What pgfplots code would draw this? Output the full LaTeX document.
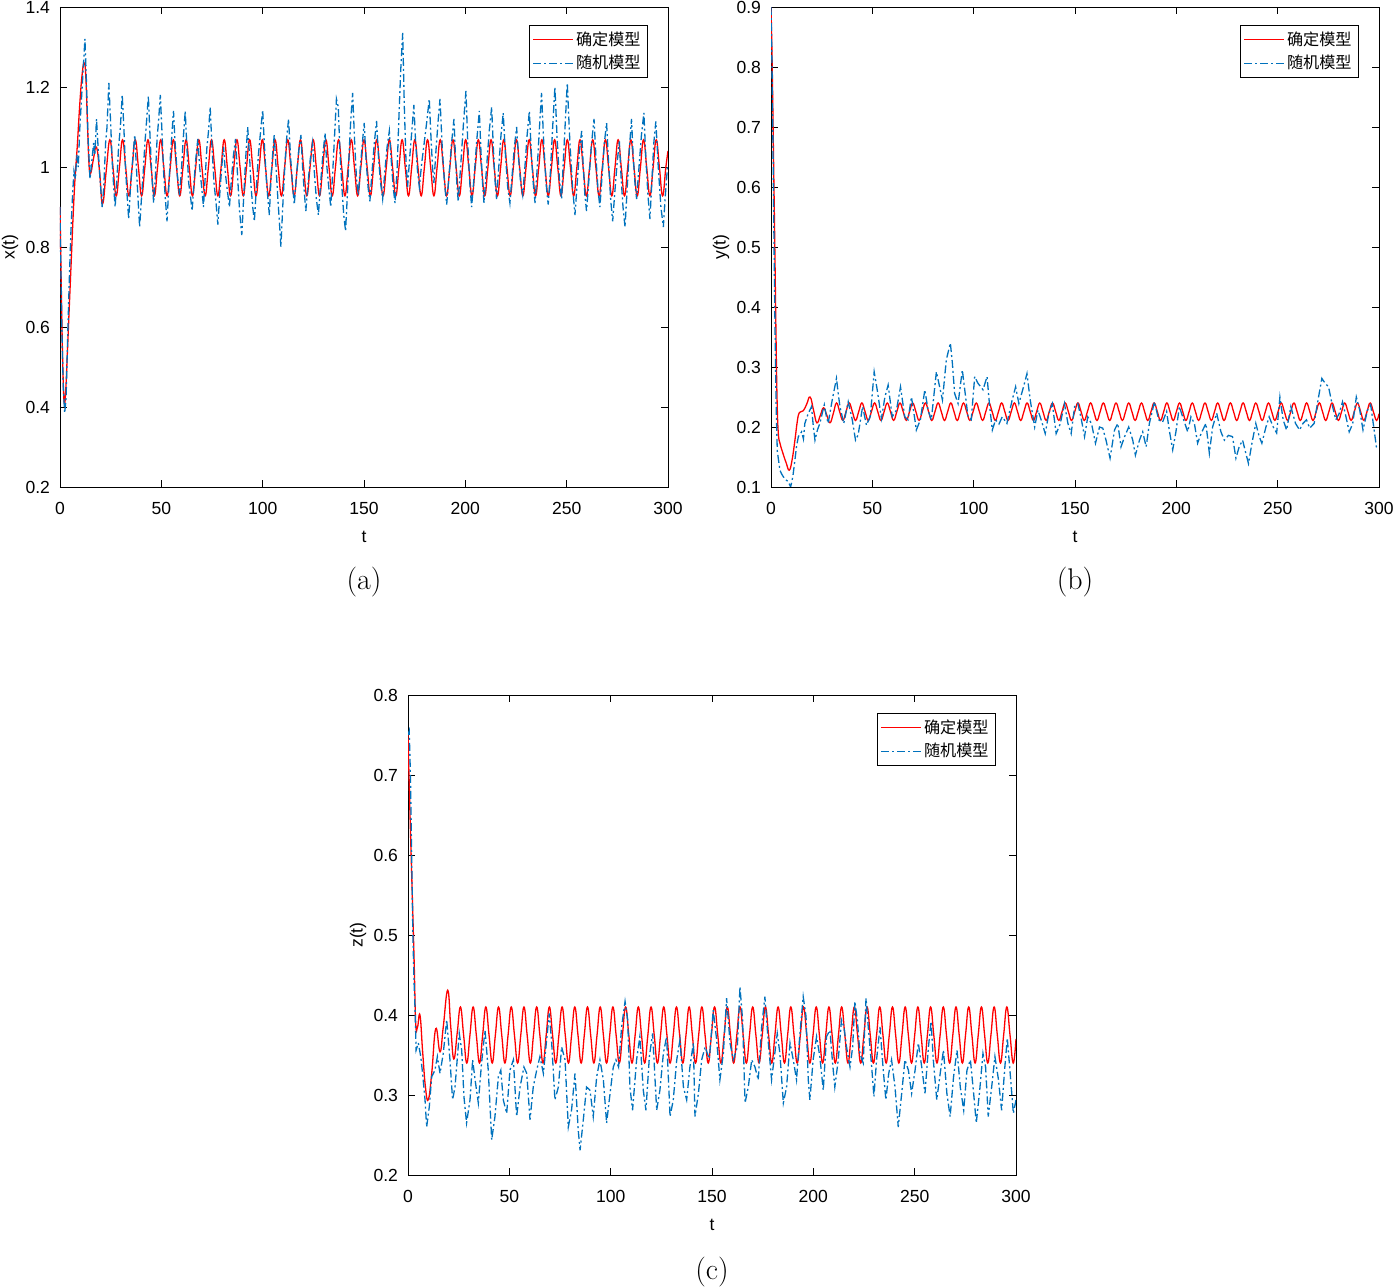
\documentclass[border=0pt]{standalone}
\usepackage{fontspec}
\usepackage{pgfplots}
\pgfplotsset{compat=1.18}
\newfontfamily\hv{Liberation Sans}
\newfontfamily\cjk{Noto Sans CJK SC}
\definecolor{mred}{rgb}{1,0,0}
\definecolor{mblue}{rgb}{0,0.447,0.741}
\pgfplotsset{
  mystyle/.style={
    scale only axis, width=304bp, height=240bp,
    xmin=0, xmax=300, xtick={0,50,100,150,200,250,300},
    tick align=inside, major tick length=3.5bp,
    major tick style={black},
    ticklabel style={font=\hv\fontsize{8.8}{10}\selectfont},
    /pgf/number format/assume math mode=true,
    xticklabel style={yshift=-4bp},
    yticklabel style={xshift=-1.5bp},
    xlabel={t},
    label style={font=\hv\fontsize{8.8}{10}\selectfont},
    xlabel style={at={(rel axis cs:0.5,0)}, anchor=center, yshift=-25bp},
    ylabel style={at={(rel axis cs:0,0.5)}, anchor=center, yshift=25bp},
    legend cell align=left,
    legend style={at={(1,1)}, anchor=north east, xshift=-10bp, yshift=-9bp,
      draw=black, fill=white,
      font=\cjk\fontsize{8.1}{9}\selectfont, inner xsep=2bp, inner ysep=1.5bp,
      row sep=0.5bp, nodes={inner sep=1.5bp}},
  },
  redleg/.style={legend image code/.code={\node[inner sep=0pt, text depth=0pt, anchor=west] at (0bp,0bp) {\color{mred}\rule{20bp}{0.65bp}};}},
  blueleg/.style={legend image code/.code={\node[inner sep=0pt, text depth=0pt, anchor=west] at (0bp,0bp) {\color{mblue}\rule{4bp}{0.65bp}\hspace{1.5bp}\rule{1bp}{0.65bp}\hspace{1.5bp}\rule{4bp}{0.65bp}\hspace{1.5bp}\rule{1bp}{0.65bp}\hspace{1.5bp}\rule{4bp}{0.65bp}};}},
}
\begin{document}
\begin{tikzpicture}
\useasboundingbox (-30bp,-400.5bp) rectangle (667.5bp,243.5bp);
% ---------------- (a)
\begin{axis}[mystyle, name=pa, at={(0bp,0bp)}, anchor=south west,
  ymin=0.2, ymax=1.4, ytick={0.2,0.4,0.6,0.8,1,1.2,1.4}, ylabel={x(t)}]
\addplot[color=mred, line width=0.65bp, smooth, tension=0.75, redleg] coordinates {
(0,0.90)(0.7,0.68)(1.4,0.50)(2.1,0.41)(2.8,0.44)(3.6,0.53)(4.5,0.64)(5.5,0.76)(6.5,0.88)(7.4,0.97)(8.5,1.05)(9.8,1.16)(11,1.235)(12,1.26)(12.8,1.22)(13.6,1.10)(14.4,1.00)(15.2,0.985)(16.5,1.02)(18,1.05)(19.5,0.99)(21,0.908)(22.8,0.99)
(24.60,1.068)(26.17,0.998)(27.74,0.928)(29.30,0.998)
(30.87,1.068)(32.44,0.998)(34.01,0.928)(35.57,0.998)
(37.14,1.068)(38.71,0.998)(40.28,0.928)(41.84,0.998)
(43.41,1.068)(44.98,0.998)(46.55,0.928)(48.11,0.998)
(49.68,1.068)(51.25,0.998)(52.82,0.928)(54.38,0.998)
(55.95,1.068)(57.52,0.998)(59.09,0.928)(60.65,0.998)
(62.22,1.068)(63.79,0.998)(65.36,0.928)(66.92,0.998)
(68.49,1.068)(70.06,0.998)(71.63,0.928)(73.19,0.998)
(74.76,1.068)(76.33,0.998)(77.90,0.928)(79.46,0.998)
(81.03,1.068)(82.60,0.998)(84.17,0.928)(85.73,0.998)
(87.30,1.068)(88.87,0.998)(90.44,0.928)(92.00,0.998)
(93.57,1.068)(95.14,0.998)(96.71,0.928)(98.27,0.998)
(99.84,1.068)(101.41,0.998)(102.98,0.928)(104.54,0.998)
(106.11,1.068)(107.68,0.998)(109.25,0.928)(110.81,0.998)
(112.38,1.068)(113.95,0.998)(115.52,0.928)(117.08,0.998)
(118.65,1.068)(120.22,0.998)(121.79,0.928)(123.35,0.998)
(124.92,1.068)(126.49,0.998)(128.06,0.928)(129.62,0.998)
(131.19,1.068)(132.76,0.998)(134.33,0.928)(135.89,0.998)
(137.46,1.068)(139.03,0.998)(140.60,0.928)(142.16,0.998)
(143.73,1.068)(145.30,0.998)(146.87,0.928)(148.43,0.998)
(150.00,1.068)(151.57,0.998)(153.14,0.928)(154.70,0.998)
(156.27,1.068)(157.84,0.998)(159.41,0.928)(160.97,0.998)
(162.54,1.068)(164.11,0.998)(165.68,0.928)(167.24,0.998)
(168.81,1.068)(170.38,0.998)(171.95,0.928)(173.51,0.998)
(175.08,1.068)(176.65,0.998)(178.22,0.928)(179.78,0.998)
(181.35,1.068)(182.92,0.998)(184.49,0.928)(186.05,0.998)
(187.62,1.068)(189.19,0.998)(190.76,0.928)(192.32,0.998)
(193.89,1.068)(195.46,0.998)(197.03,0.928)(198.59,0.998)
(200.16,1.068)(201.73,0.998)(203.30,0.928)(204.86,0.998)
(206.43,1.068)(208.00,0.998)(209.57,0.928)(211.13,0.998)
(212.70,1.068)(214.27,0.998)(215.84,0.928)(217.40,0.998)
(218.97,1.068)(220.54,0.998)(222.11,0.928)(223.67,0.998)
(225.24,1.068)(226.81,0.998)(228.38,0.928)(229.94,0.998)
(231.51,1.068)(233.08,0.998)(234.65,0.928)(236.21,0.998)
(237.78,1.068)(239.35,0.998)(240.92,0.928)(242.48,0.998)
(244.05,1.068)(245.62,0.998)(247.19,0.928)(248.75,0.998)
(250.32,1.068)(251.89,0.998)(253.46,0.928)(255.02,0.998)
(256.59,1.068)(258.16,0.998)(259.73,0.928)(261.29,0.998)
(262.86,1.068)(264.43,0.998)(266.00,0.928)(267.56,0.998)
(269.13,1.068)(270.70,0.998)(272.27,0.928)(273.83,0.998)
(275.40,1.068)(276.97,0.998)(278.54,0.928)(280.10,0.998)
(281.67,1.068)(283.24,0.998)(284.81,0.928)(286.37,0.998)
(287.94,1.068)(289.51,0.998)(291.08,0.928)(292.64,0.998)
(294.21,1.068)(295.78,0.998)(297.35,0.928)(298.91,0.998)(300,1.04)
};
\addplot[color=mblue, line width=0.65bp, dash pattern=on 4bp off 1.5bp on 1bp off 1.5bp, blueleg] coordinates {
(0,0.90)(0.8,0.62)(1.6,0.45)(2.3,0.385)(3.0,0.42)(3.8,0.58)(4.6,0.72)(5.4,0.84)(6.2,0.93)(6.9,0.99)(7.6,0.97)(8.3,1.03)(9.0,1.00)(9.8,1.10)(10.6,1.17)(11.4,1.24)(12.3,1.32)(13.0,1.22)(13.8,1.08)(14.8,0.97)(15.8,1.02)(16.6,1.06)(17.2,1.03)(18.0,1.12)(18.8,1.05)(19.6,0.98)(20.8,0.90)(21.6,0.95)(22.5,1.06)(23.2,1.10)(24.1,1.21)(24.9,1.12)(25.8,1.01)(26.5,0.95)(27.2,0.90)(28.1,0.97)(28.9,1.05)(29.8,1.10)(30.7,1.18)(31.5,1.10)(32.3,1.00)(33.1,0.93)(33.9,0.87)(34.8,0.95)(35.6,1.00)(36.2,1.04)(36.9,1.08)(37.7,1.00)(38.5,0.92)(39.3,0.85)(40.3,0.93)(41.1,0.99)(41.9,1.06)(42.8,1.12)(43.6,1.177)(44.4,1.08)(45.3,0.98)(46.2,0.91)(47.1,0.98)(47.9,1.07)(48.7,1.12)(49.5,1.18)(50.3,1.09)(51.2,0.98)(52.0,0.92)(52.8,0.864)(53.6,0.94)(54.4,1.02)(55.2,1.08)(56.0,1.14)(56.8,1.06)(57.9,0.98)(59.0,0.93)(59.9,0.99)(60.8,1.07)(61.8,1.14)(62.6,1.05)(63.5,0.96)(64.3,0.93)(65.2,0.89)(66.1,0.96)(67.0,1.02)(68.0,1.07)(68.9,1.00)(69.9,0.95)(70.8,0.90)(71.6,0.97)(72.5,1.05)(73.3,1.09)(74.1,1.15)(75.0,1.05)(76.0,0.96)(77.0,0.91)(77.9,0.856)(78.8,0.93)(79.8,1.00)(80.7,1.05)(81.7,0.98)(82.6,0.94)(83.6,0.90)(84.6,0.97)(85.6,1.03)(86.6,1.07)(87.6,0.98)(88.6,0.89)(89.7,0.83)(90.6,0.92)(91.6,1.02)(92.6,1.10)(93.5,1.03)(94.3,0.95)(95.1,0.90)(95.9,0.864)(96.9,0.95)(97.9,1.03)(99.0,1.09)(100.0,1.143)(100.9,1.05)(101.8,0.97)(102.6,0.92)(103.3,0.88)(104.1,0.97)(104.9,1.03)(105.7,1.08)(106.6,1.00)(107.5,0.92)(108.3,0.86)(109.0,0.80)(109.9,0.90)(110.9,1.00)(111.8,1.07)(112.8,1.12)(113.7,1.03)(114.7,0.96)(115.6,0.906)(116.7,0.98)(117.8,1.04)(118.9,1.08)(119.7,1.00)(120.5,0.94)(121.3,0.89)(122.4,0.96)(123.5,1.02)(124.6,1.06)(125.6,0.98)(126.5,0.92)(127.5,0.88)(128.6,0.96)(129.7,1.03)(130.8,1.085)(131.7,1.00)(132.6,0.95)(133.6,0.90)(134.6,0.99)(135.5,1.08)(136.4,1.17)(137.3,1.15)(138.2,1.03)(139.1,0.95)(140.0,0.88)(140.9,0.84)(141.8,0.93)(142.7,1.04)(143.5,1.12)(144.4,1.185)(145.4,1.06)(146.3,0.97)(147.2,0.93)(148.2,1.00)(149.2,1.06)(150.1,1.11)(151.0,1.02)(152.0,0.95)(152.9,0.914)(154.0,0.99)(155.1,1.06)(156.2,1.115)(157.2,1.02)(158.2,0.96)(159.2,0.92)(160.3,0.99)(161.4,1.05)(162.5,1.09)(163.4,1.02)(164.4,0.95)(165.3,0.91)(166.3,0.99)(167.2,1.12)(168.1,1.24)(169.1,1.335)(169.9,1.15)(170.7,1.02)(171.5,0.95)(172.5,1.02)(173.6,1.09)(174.6,1.155)(175.5,1.06)(176.4,0.99)(177.3,0.95)(178.5,1.01)(179.7,1.06)(180.9,1.11)(182.2,1.17)(183.0,1.08)(183.8,1.00)(184.5,0.96)(185.5,1.04)(186.5,1.11)(187.5,1.17)(188.6,1.05)(189.7,0.96)(190.8,0.906)(192.0,0.98)(193.2,1.06)(194.4,1.12)(195.1,1.03)(195.8,0.96)(196.5,0.914)(197.8,1.01)(199.1,1.11)(200.3,1.19)(201.2,1.06)(202.2,0.96)(203.1,0.90)(204.4,0.98)(205.7,1.07)(206.9,1.14)(207.7,1.04)(208.5,0.96)(209.2,0.91)(210.5,1.00)(211.8,1.09)(213.0,1.15)(213.8,1.05)(214.6,0.97)(215.4,0.92)(216.5,1.00)(217.6,1.08)(218.7,1.135)(219.8,1.03)(220.9,0.95)(222.0,0.91)(223.1,0.98)(224.2,1.05)(225.3,1.10)(226.3,1.02)(227.3,0.96)(228.3,0.93)(229.4,1.00)(230.5,1.08)(231.6,1.14)(232.5,1.04)(233.5,0.96)(234.4,0.91)(235.5,1.00)(236.6,1.10)(237.6,1.185)(238.7,1.06)(239.8,0.96)(240.9,0.906)(242.0,0.99)(243.1,1.10)(244.2,1.20)(245.3,1.07)(246.4,0.97)(247.5,0.92)(248.4,1.02)(249.4,1.12)(250.3,1.21)(251.6,1.06)(252.9,0.95)(254.1,0.88)(255.2,0.96)(256.3,1.04)(257.4,1.09)(258.2,1.00)(259.0,0.93)(259.8,0.89)(261.0,0.97)(262.3,1.06)(263.5,1.12)(264.5,1.02)(265.5,0.94)(266.4,0.90)(267.5,0.98)(268.6,1.06)(269.7,1.11)(270.7,1.01)(271.7,0.92)(272.7,0.864)(273.8,0.94)(274.9,1.01)(276.0,1.064)(276.9,0.97)(277.8,0.90)(278.8,0.85)(279.9,0.95)(281.0,1.05)(282.0,1.12)(282.8,1.03)(283.7,0.96)(284.5,0.92)(285.7,1.00)(286.9,1.08)(288.1,1.135)(289.1,1.02)(290.1,0.93)(291.1,0.87)(292.1,0.97)(293.0,1.06)(294.0,1.114)(295.2,1.00)(296.5,0.90)(297.7,0.85)(298.7,0.93)(299.7,0.997)(300,1.0)
};
\legend{确定模型,随机模型}
\end{axis}
\node[font=\fontsize{15}{18}\selectfont] at ([yshift=-47.5bp]pa.south) {(a)};
% ---------------- (b)
\begin{axis}[mystyle, name=pb, at={(355.5bp,0bp)}, anchor=south west,
  ymin=0.1, ymax=0.9, ytick={0.1,0.2,0.3,0.4,0.5,0.6,0.7,0.8,0.9}, ylabel={y(t)}]
\addplot[color=mred, line width=0.65bp, smooth, tension=0.75, redleg] coordinates {
(0,0.90)(0.6,0.80)(1.2,0.66)(1.8,0.52)(2.5,0.345)(3.0,0.245)(3.6,0.19)(4.5,0.172)(6,0.155)(7.5,0.14)(9,0.128)(10.4,0.145)(11.8,0.178)(13,0.21)(14,0.224)(15.9,0.227)(17.6,0.238)(19.3,0.25)(21,0.228)(22.6,0.207)(24.3,0.219)(25.9,0.232)(27.5,0.22)(29.1,0.207)(30.7,0.222)
(32.30,0.240)(33.87,0.2255)(35.44,0.211)(37.00,0.2255)
(38.57,0.240)(40.14,0.2255)(41.71,0.211)(43.27,0.2255)
(44.84,0.240)(46.41,0.2255)(47.98,0.211)(49.54,0.2255)
(51.11,0.240)(52.68,0.2255)(54.25,0.211)(55.81,0.2255)
(57.38,0.240)(58.95,0.2255)(60.52,0.211)(62.08,0.2255)
(63.65,0.240)(65.22,0.2255)(66.79,0.211)(68.35,0.2255)
(69.92,0.240)(71.49,0.2255)(73.06,0.211)(74.62,0.2255)
(76.19,0.240)(77.76,0.2255)(79.33,0.211)(80.89,0.2255)
(82.46,0.240)(84.03,0.2255)(85.60,0.211)(87.16,0.2255)
(88.73,0.240)(90.30,0.2255)(91.87,0.211)(93.43,0.2255)
(95.00,0.240)(96.57,0.2255)(98.14,0.211)(99.70,0.2255)
(101.27,0.240)(102.84,0.2255)(104.41,0.211)(105.97,0.2255)
(107.54,0.240)(109.11,0.2255)(110.68,0.211)(112.24,0.2255)
(113.81,0.240)(115.38,0.2255)(116.95,0.211)(118.51,0.2255)
(120.08,0.240)(121.65,0.2255)(123.22,0.211)(124.78,0.2255)
(126.35,0.240)(127.92,0.2255)(129.49,0.211)(131.05,0.2255)
(132.62,0.240)(134.19,0.2255)(135.76,0.211)(137.32,0.2255)
(138.89,0.240)(140.46,0.2255)(142.03,0.211)(143.59,0.2255)
(145.16,0.240)(146.73,0.2255)(148.30,0.211)(149.86,0.2255)
(151.43,0.240)(153.00,0.2255)(154.57,0.211)(156.13,0.2255)
(157.70,0.240)(159.27,0.2255)(160.84,0.211)(162.40,0.2255)
(163.97,0.240)(165.54,0.2255)(167.11,0.211)(168.67,0.2255)
(170.24,0.240)(171.81,0.2255)(173.38,0.211)(174.94,0.2255)
(176.51,0.240)(178.08,0.2255)(179.65,0.211)(181.21,0.2255)
(182.78,0.240)(184.35,0.2255)(185.92,0.211)(187.48,0.2255)
(189.05,0.240)(190.62,0.2255)(192.19,0.211)(193.75,0.2255)
(195.32,0.240)(196.89,0.2255)(198.46,0.211)(200.02,0.2255)
(201.59,0.240)(203.16,0.2255)(204.73,0.211)(206.29,0.2255)
(207.86,0.240)(209.43,0.2255)(211.00,0.211)(212.56,0.2255)
(214.13,0.240)(215.70,0.2255)(217.27,0.211)(218.83,0.2255)
(220.40,0.240)(221.97,0.2255)(223.54,0.211)(225.10,0.2255)
(226.67,0.240)(228.24,0.2255)(229.81,0.211)(231.37,0.2255)
(232.94,0.240)(234.51,0.2255)(236.08,0.211)(237.64,0.2255)
(239.21,0.240)(240.78,0.2255)(242.35,0.211)(243.91,0.2255)
(245.48,0.240)(247.05,0.2255)(248.62,0.211)(250.18,0.2255)
(251.75,0.240)(253.32,0.2255)(254.89,0.211)(256.45,0.2255)
(258.02,0.240)(259.59,0.2255)(261.16,0.211)(262.72,0.2255)
(264.29,0.240)(265.86,0.2255)(267.43,0.211)(268.99,0.2255)
(270.56,0.240)(272.13,0.2255)(273.70,0.211)(275.26,0.2255)
(276.83,0.240)(278.40,0.2255)(279.97,0.211)(281.53,0.2255)
(283.10,0.240)(284.67,0.2255)(286.24,0.211)(287.80,0.2255)
(289.37,0.240)(290.94,0.2255)(292.51,0.211)(294.07,0.2255)
(295.64,0.240)(297.21,0.2255)(298.78,0.211)(300,0.222)
};
\addplot[color=mblue, line width=0.65bp, dash pattern=on 4bp off 1.5bp on 1bp off 1.5bp, blueleg] coordinates {
(0,0.90)(0.5,0.80)(1.0,0.66)(1.5,0.50)(2.0,0.36)(2.5,0.24)(3.1,0.16)(4.4,0.128)(5.2,0.122)(6.1,0.117)(7.3,0.112)(8.5,0.109)(9.7,0.100)(10.8,0.118)(11.8,0.145)(12.6,0.168)(13.5,0.184)(15.1,0.192)(16.0,0.180)(16.7,0.206)(18.3,0.222)(20.0,0.234)(20.9,0.200)(21.7,0.178)(22.9,0.195)(24.1,0.206)(26.3,0.237)(27.3,0.218)(28.2,0.206)(30.2,0.245)(32.3,0.281)(33.2,0.255)(34.0,0.234)(35.9,0.206)(38.1,0.242)(40.1,0.212)(41.7,0.178)(43.0,0.187)(45.2,0.234)(47.1,0.203)(49.0,0.218)(50.9,0.292)(52.4,0.262)(54.5,0.214)(56.2,0.250)(57.8,0.270)(59.8,0.217)(61.9,0.228)(63.9,0.267)(66.0,0.217)(67.6,0.212)(69.3,0.250)(71.0,0.212)(71.7,0.195)(73.7,0.212)(75.9,0.262)(77.5,0.228)(79.1,0.212)(81.6,0.292)(83.2,0.267)(84.6,0.245)(86.5,0.312)(88.5,0.340)(89.5,0.306)(90.6,0.256)(92.3,0.239)(94.4,0.295)(95.6,0.262)(97.2,0.217)(98.8,0.212)(100.5,0.284)(102.1,0.273)(104.6,0.262)(106.6,0.284)(107.9,0.234)(109.2,0.195)(110.8,0.212)(112.5,0.205)(114.1,0.217)(116.4,0.206)(119.0,0.245)(120.7,0.267)(122.3,0.239)(124.6,0.267)(126.3,0.289)(127.9,0.245)(130.1,0.200)(131.7,0.228)(133.5,0.210)(135.3,0.189)(137.1,0.223)(138.8,0.239)(140.7,0.189)(142.7,0.205)(144.8,0.239)(146.5,0.206)(148.1,0.189)(149.8,0.234)(151.4,0.239)(153.0,0.215)(154.7,0.184)(156.3,0.217)(158.2,0.205)(160.1,0.173)(162.1,0.200)(163.7,0.198)(165.3,0.178)(167.3,0.148)(169.5,0.195)(171.1,0.206)(172.7,0.167)(174.6,0.185)(176.5,0.200)(178.5,0.178)(179.8,0.153)(181.8,0.178)(183.4,0.192)(185.1,0.167)(186.7,0.206)(189.2,0.242)(191.3,0.212)(193.2,0.208)(195.2,0.226)(196.5,0.195)(198.2,0.162)(199.8,0.192)(201.5,0.234)(203.4,0.214)(205.6,0.192)(207.2,0.217)(208.9,0.206)(210.5,0.173)(212.2,0.189)(214.6,0.206)(216.3,0.156)(217.9,0.200)(219.9,0.223)(222.0,0.192)(223.7,0.178)(225.7,0.186)(227.7,0.184)(229.4,0.148)(231.0,0.167)(232.7,0.178)(234.3,0.156)(235.6,0.139)(237.3,0.173)(239.2,0.206)(240.9,0.184)(242.2,0.173)(244.2,0.200)(245.8,0.217)(247.8,0.200)(249.5,0.190)(251.1,0.250)(252.7,0.212)(254.4,0.195)(256.5,0.234)(258.8,0.206)(260.8,0.195)(262.5,0.206)(264.2,0.212)(265.8,0.198)(268.0,0.206)(269.6,0.239)(271.8,0.281)(273.4,0.273)(275.1,0.267)(277.1,0.234)(278.7,0.212)(280.3,0.222)(282.0,0.242)(283.7,0.217)(285.3,0.192)(287.0,0.205)(288.8,0.250)(290.5,0.228)(292.1,0.195)(294.3,0.228)(295.9,0.237)(297.6,0.195)(298.7,0.167)(300.0,0.165)
};
\legend{确定模型,随机模型}
\end{axis}
\node[font=\fontsize{15}{18}\selectfont] at ([yshift=-47.5bp]pb.south) {(b)};
% ---------------- (c)
\begin{axis}[mystyle, name=pc, at={(174bp,-344bp)}, anchor=south west,
  ymin=0.2, ymax=0.8, ytick={0.2,0.3,0.4,0.5,0.6,0.7,0.8}, ylabel={z(t)}]
\addplot[color=mred, line width=0.65bp, smooth, tension=0.75, redleg] coordinates {
(0,0.75)(1,0.65)(2,0.56)(3,0.47)(3.8,0.39)(4.7,0.385)(5.9,0.40)(7.2,0.355)(8.6,0.31)(10,0.294)(11.7,0.327)(13.7,0.383)(15.8,0.354)(17.4,0.385)(19.6,0.431)(21.1,0.385)(22.6,0.345)(24.3,0.378)
(25.87,0.41)(27.44,0.375)(29.01,0.34)(30.57,0.375)
(32.14,0.41)(33.71,0.375)(35.28,0.34)(36.84,0.375)
(38.41,0.41)(39.98,0.375)(41.55,0.34)(43.11,0.375)
(44.68,0.41)(46.25,0.375)(47.82,0.34)(49.38,0.375)
(50.95,0.41)(52.52,0.375)(54.09,0.34)(55.65,0.375)
(57.22,0.41)(58.79,0.375)(60.36,0.34)(61.92,0.375)
(63.49,0.41)(65.06,0.375)(66.63,0.34)(68.19,0.375)
(69.76,0.41)(71.33,0.375)(72.90,0.34)(74.46,0.375)
(76.03,0.41)(77.60,0.375)(79.17,0.34)(80.73,0.375)
(82.30,0.41)(83.87,0.375)(85.44,0.34)(87.00,0.375)
(88.57,0.41)(90.14,0.375)(91.71,0.34)(93.27,0.375)
(94.84,0.41)(96.41,0.375)(97.98,0.34)(99.54,0.375)
(101.11,0.41)(102.68,0.375)(104.25,0.34)(105.81,0.375)
(107.38,0.41)(108.95,0.375)(110.52,0.34)(112.08,0.375)
(113.65,0.41)(115.22,0.375)(116.79,0.34)(118.35,0.375)
(119.92,0.41)(121.49,0.375)(123.06,0.34)(124.62,0.375)
(126.19,0.41)(127.76,0.375)(129.33,0.34)(130.89,0.375)
(132.46,0.41)(134.03,0.375)(135.60,0.34)(137.16,0.375)
(138.73,0.41)(140.30,0.375)(141.87,0.34)(143.43,0.375)
(145.00,0.41)(146.57,0.375)(148.14,0.34)(149.70,0.375)
(151.27,0.41)(152.84,0.375)(154.41,0.34)(155.97,0.375)
(157.54,0.41)(159.11,0.375)(160.68,0.34)(162.24,0.375)
(163.81,0.41)(165.38,0.375)(166.95,0.34)(168.51,0.375)
(170.08,0.41)(171.65,0.375)(173.22,0.34)(174.78,0.375)
(176.35,0.41)(177.92,0.375)(179.49,0.34)(181.05,0.375)
(182.62,0.41)(184.19,0.375)(185.76,0.34)(187.32,0.375)
(188.89,0.41)(190.46,0.375)(192.03,0.34)(193.59,0.375)
(195.16,0.41)(196.73,0.375)(198.30,0.34)(199.86,0.375)
(201.43,0.41)(203.00,0.375)(204.57,0.34)(206.13,0.375)
(207.70,0.41)(209.27,0.375)(210.84,0.34)(212.40,0.375)
(213.97,0.41)(215.54,0.375)(217.11,0.34)(218.67,0.375)
(220.24,0.41)(221.81,0.375)(223.38,0.34)(224.94,0.375)
(226.51,0.41)(228.08,0.375)(229.65,0.34)(231.21,0.375)
(232.78,0.41)(234.35,0.375)(235.92,0.34)(237.48,0.375)
(239.05,0.41)(240.62,0.375)(242.19,0.34)(243.75,0.375)
(245.32,0.41)(246.89,0.375)(248.46,0.34)(250.02,0.375)
(251.59,0.41)(253.16,0.375)(254.73,0.34)(256.29,0.375)
(257.86,0.41)(259.43,0.375)(261.00,0.34)(262.56,0.375)
(264.13,0.41)(265.70,0.375)(267.27,0.34)(268.83,0.375)
(270.40,0.41)(271.97,0.375)(273.54,0.34)(275.10,0.375)
(276.67,0.41)(278.24,0.375)(279.81,0.34)(281.37,0.375)
(282.94,0.41)(284.51,0.375)(286.08,0.34)(287.64,0.375)
(289.21,0.41)(290.78,0.375)(292.35,0.34)(293.91,0.375)
(295.48,0.41)(297.05,0.375)(298.62,0.34)(300,0.37)
};
\addplot[color=mblue, line width=0.65bp, dash pattern=on 4bp off 1.5bp on 1bp off 1.5bp, blueleg] coordinates {
(0,0.75)(0.6,0.755)(1.2,0.70)(1.8,0.60)(2.4,0.50)(3.0,0.44)(3.5,0.406)(4.0,0.356)(5.1,0.365)(6.3,0.348)(7.2,0.327)(8.4,0.294)(9.2,0.260)(10.5,0.285)(11.7,0.323)(13.3,0.331)(14.5,0.348)(15.8,0.327)(17.4,0.352)(19.1,0.394)(20.7,0.344)(22.0,0.294)(23.2,0.310)(25.3,0.377)(26.5,0.356)(27.6,0.298)(28.9,0.265)(30.6,0.294)(31.9,0.344)(33.1,0.319)(34.7,0.290)(36.3,0.340)(38.0,0.381)(39.6,0.331)(41.3,0.244)(42.9,0.273)(44.6,0.323)(45.8,0.331)(47.0,0.294)(48.7,0.277)(50.3,0.331)(52.0,0.344)(53.6,0.273)(55.3,0.310)(57.2,0.335)(58.6,0.327)(60.2,0.269)(61.8,0.310)(63.5,0.331)(65.1,0.348)(66.8,0.327)(68.4,0.369)(69.7,0.402)(70.9,0.365)(72.5,0.294)(74.2,0.310)(75.8,0.360)(77.5,0.344)(79.1,0.260)(80.7,0.281)(82.4,0.327)(84.0,0.256)(84.9,0.231)(86.5,0.269)(88.1,0.310)(89.8,0.306)(91.4,0.273)(93.1,0.323)(94.7,0.344)(96.4,0.319)(98.0,0.265)(99.7,0.302)(101.3,0.335)(102.6,0.344)(103.9,0.335)(105.4,0.385)(107.1,0.417)(108.4,0.394)(109.5,0.310)(110.8,0.281)(112.8,0.344)(114.4,0.373)(116.1,0.306)(117.4,0.281)(119.1,0.348)(120.7,0.377)(122.7,0.281)(124.3,0.306)(126.0,0.352)(127.6,0.373)(129.3,0.273)(130.9,0.294)(132.6,0.344)(134.2,0.369)(135.9,0.310)(137.5,0.294)(139.1,0.335)(140.8,0.365)(141.6,0.273)(143.3,0.302)(144.9,0.344)(146.6,0.360)(148.7,0.345)(150.6,0.406)(152.3,0.369)(153.9,0.319)(155.6,0.352)(157.2,0.421)(158.9,0.365)(160.5,0.344)(162.5,0.360)(163.8,0.435)(165.1,0.394)(166.3,0.290)(167.9,0.310)(169.6,0.344)(171.2,0.335)(172.8,0.319)(174.5,0.385)(176.1,0.423)(177.8,0.365)(179.4,0.319)(180.6,0.344)(182.2,0.377)(183.5,0.352)(185.2,0.290)(186.8,0.310)(188.5,0.365)(190.1,0.344)(191.7,0.319)(193.4,0.377)(195.0,0.423)(196.4,0.398)(197.5,0.319)(198.3,0.294)(199.9,0.344)(201.6,0.373)(203.2,0.348)(204.9,0.306)(206.5,0.373)(208.2,0.381)(209.5,0.340)(210.6,0.310)(212.3,0.344)(213.9,0.394)(215.1,0.385)(216.4,0.360)(218.1,0.335)(219.4,0.360)(220.5,0.417)(221.7,0.394)(223.0,0.352)(224.6,0.340)(226.0,0.421)(227.1,0.385)(228.8,0.335)(229.9,0.298)(231.2,0.344)(232.9,0.385)(234.5,0.331)(235.8,0.294)(237.2,0.327)(238.6,0.344)(240.3,0.310)(241.9,0.260)(243.6,0.302)(245.2,0.344)(246.9,0.331)(248.5,0.302)(250.2,0.331)(251.8,0.365)(253.5,0.335)(255.1,0.302)(256.8,0.360)(258.1,0.392)(259.2,0.344)(260.9,0.294)(262.6,0.327)(264.2,0.356)(265.9,0.302)(267.5,0.273)(269.2,0.323)(270.9,0.356)(272.5,0.310)(274.2,0.281)(275.8,0.331)(277.5,0.344)(279.1,0.302)(280.4,0.265)(282.1,0.306)(283.7,0.352)(285.0,0.335)(286.3,0.273)(288.0,0.310)(289.6,0.348)(291.3,0.320)(292.9,0.281)(294.5,0.335)(295.7,0.371)(297.0,0.331)(298.7,0.277)(300.0,0.294)
};
\legend{确定模型,随机模型}
\end{axis}
\node[font=\fontsize{15}{18}\selectfont] at ([yshift=-48.5bp]pc.south) {(c)};
\end{tikzpicture}
\end{document}
